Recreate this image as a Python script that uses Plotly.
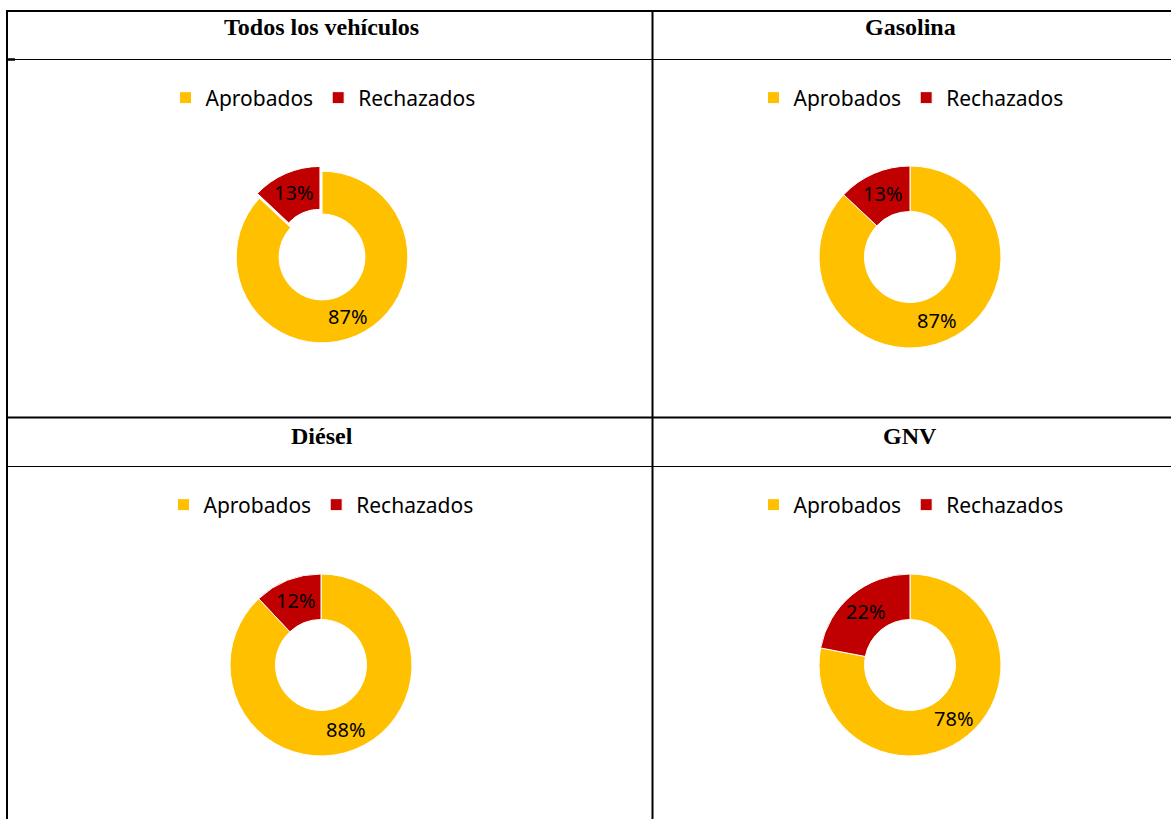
import math
import plotly.graph_objects as go

W, H = 1171, 819

categories = ["Aprobados", "Rechazados"]
panel_titles = ["Todos los vehículos", "Gasolina", "Diésel", "GNV"]
todos_vals = [87, 13]
gasolina_vals = [87, 13]
diesel_vals = [88, 12]
gnv_vals = [78, 22]
colors = ["#FFC000", "#C00000"]


def px(x):
    return x / W


def py(y):
    return 1 - y / H


series = [todos_vals, gasolina_vals, diesel_vals, gnv_vals]
centers = [(322, 257), (910, 257), (321, 665), (910, 665)]
pulls = [[0, 0.06], [0, 0], [0, 0], [0, 0]]
R = 91
HOLE = 0.5
legend_names = ["legend", "legend2", "legend3", "legend4"]
legend_pos = [(323, 98), (911, 98), (321, 505), (911, 505)]
title_pos = [(322, 27), (910, 27), (322, 436), (910, 436)]

fig = go.Figure()
annotations = []
for i, vals in enumerate(series):
    cx, cy = centers[i]
    fig.add_trace(go.Pie(
        labels=categories,
        values=vals,
        hole=HOLE,
        sort=False,
        direction="clockwise",
        rotation=0,
        pull=pulls[i],
        marker=dict(colors=colors, line=dict(color="white", width=1)),
        textinfo="none",
        domain=dict(x=[px(cx - R), px(cx + R)], y=[py(cy + R), py(cy - R)]),
        legend=legend_names[i],
        legendgroup="g%d" % i,
        hoverinfo="label+percent",
    ))
    # percentage labels placed at each slice's mid-angle (derived from the data)
    total = float(sum(vals))
    reff = R / (1 + max(pulls[i]))
    cum = 0.0
    for k, v in enumerate(vals):
        mid = (cum + v / 2.0) / total
        cum += v
        theta = 2 * math.pi * mid
        rlab = reff * ((1 + HOLE) / 2 + 0.01 + pulls[i][k])
        lx = cx + rlab * math.sin(theta)
        ly = cy - rlab * math.cos(theta)
        annotations.append(dict(
            text="%d%%" % v, x=px(lx), y=py(ly), xref="paper", yref="paper",
            showarrow=False, xanchor="center", yanchor="middle",
            font=dict(family="Noto Sans", size=20, color="black"),
        ))

layout_legends = {}
for i, name in enumerate(legend_names):
    lx, ly = legend_pos[i]
    layout_legends[name] = dict(
        orientation="h",
        x=px(lx), y=py(ly),
        xanchor="center", yanchor="middle",
        font=dict(family="Noto Sans", size=21, color="#000000"),
        bgcolor="rgba(0,0,0,0)",
        traceorder="normal",
    )

for i, t in enumerate(panel_titles):
    tx, ty = title_pos[i]
    annotations.append(dict(
        text="<b>" + t + "</b>", x=px(tx), y=py(ty), xref="paper", yref="paper",
        showarrow=False, xanchor="center", yanchor="middle",
        font=dict(family="Liberation Serif", size=24, color="black"),
    ))

shapes = []


def hline(y, x0, x1, w):
    shapes.append(dict(type="line", xref="paper", yref="paper",
                       x0=px(x0), x1=px(x1), y0=py(y), y1=py(y),
                       line=dict(color="black", width=w)))


def vline(x, y0, y1, w):
    shapes.append(dict(type="line", xref="paper", yref="paper",
                       x0=px(x), x1=px(x), y0=py(y0), y1=py(y1),
                       line=dict(color="black", width=w)))


hline(11, 6, 1171, 2)
hline(59.5, 15, 1171, 1.2)
hline(59.5, 6, 15, 2.5)
hline(417.5, 6, 1171, 2)
hline(466.5, 6, 1171, 1.2)
vline(7, 10, 819, 2)
vline(652.5, 10, 819, 2)

fig.update_layout(
    width=W, height=H,
    margin=dict(l=0, r=0, t=0, b=0),
    paper_bgcolor="white",
    plot_bgcolor="white",
    showlegend=True,
    annotations=annotations,
    shapes=shapes,
    **layout_legends,
)

fig.write_html("out.html", config={"displayModeBar": False},
               post_script="document.body.style.margin='0px';")
